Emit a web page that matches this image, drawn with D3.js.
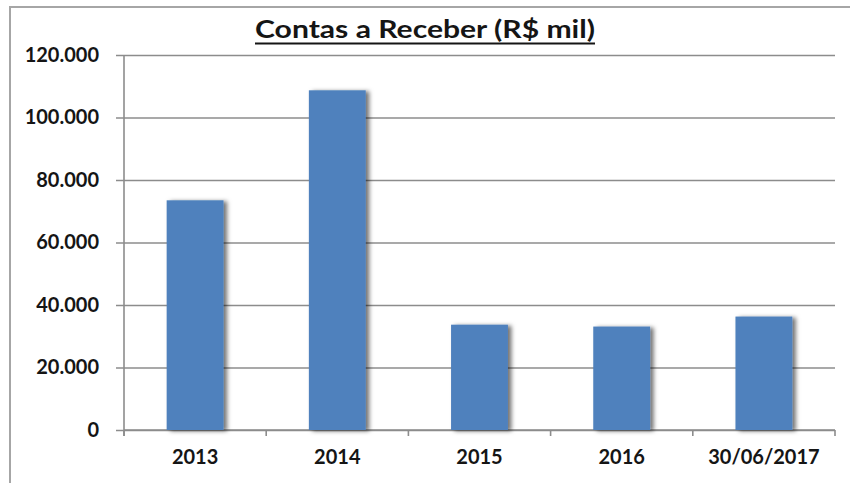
<!DOCTYPE html>
<html>
<head>
<meta charset="utf-8">
<script src="https://cdn.jsdelivr.net/npm/d3@7"></script>
<style>
  body { margin: 0; background: #fff; }
  text { font-family: Lato, "Open Sans", sans-serif; font-weight: bold; fill: #151515; }
</style>
</head>
<body>
<div id="container"></div>
<script>
/* CONSTANTS AND GLOBALS */
const width = 850;
const height = 483;
const margin = {top: 55, bottom: 53, left: 124, right: 15};

/* DATA */
const categories = ["2013", "2014", "2015", "2016", "30/06/2017"];
const values = [73500, 108700, 33700, 33100, 36300];
const yTicks = [0, 20000, 40000, 60000, 80000, 100000, 120000];
const title = "Contas a Receber (R$ mil)";

const data = categories.map((c, i) => ({cat: c, value: values[i]}));

// brazilian number format: 120.000
const ptBR = d3.formatLocale({decimal: ",", thousands: ".", grouping: [3], currency: ["R$", ""]});
const fmt = ptBR.format(",d");

/* SCALES */
const xScale = d3.scaleBand()
  .domain(categories)
  .range([margin.left, width - margin.right])
  .paddingInner(0.6)
  .paddingOuter(0.3);

const yScale = d3.scaleLinear()
  .domain([0, 120000])
  .range([height - margin.bottom, margin.top]);

/* HTML ELEMENTS */
const svg = d3.select("#container")
  .append("svg")
  .attr("width", width)
  .attr("height", height);

// drop shadow for the bars
const defs = svg.append("defs");
defs.append("filter")
  .attr("id", "shadow")
  .attr("x", "-20%").attr("y", "-10%")
  .attr("width", "150%").attr("height", "120%")
  .append("feDropShadow")
  .attr("dx", 3.5).attr("dy", 1)
  .attr("stdDeviation", 2.2)
  .attr("flood-color", "#000")
  .attr("flood-opacity", 0.55);

// chart frame
svg.append("rect")
  .attr("x", 10)
  .attr("y", 7)
  .attr("width", width + 20)
  .attr("height", height + 20)
  .attr("fill", "none")
  .attr("stroke", "#a6a6a6")
  .attr("stroke-width", 2);

// gridlines + y axis
const yAxis = d3.axisLeft(yScale)
  .tickValues(yTicks)
  .tickFormat(fmt)
  .tickSize(-(width - margin.right - margin.left + 8))
  .tickPadding(17);

const yG = svg.append("g")
  .attr("transform", `translate(${margin.left - 8},0)`)
  .call(yAxis);
yG.select(".domain").remove();
yG.selectAll(".tick line")
  .attr("stroke", "#8c8c8c")
  .attr("stroke-width", 1.6);
yG.selectAll(".tick text")
  .attr("font-size", 20)
  .attr("dy", "0.3em");

// vertical axis line
svg.append("line")
  .attr("x1", margin.left).attr("x2", margin.left)
  .attr("y1", margin.top).attr("y2", height - margin.bottom + 6)
  .attr("stroke", "#8c8c8c")
  .attr("stroke-width", 1.6);

// x axis with ticks between categories
const step = xScale.step();
const xAxis = d3.axisBottom(xScale).tickSize(0).tickPadding(20);
const xG = svg.append("g")
  .attr("transform", `translate(0,${height - margin.bottom})`)
  .call(xAxis);
xG.select(".domain")
  .attr("stroke", "#8c8c8c")
  .attr("stroke-width", 1.6)
  .attr("d", `M${margin.left},0H${width - margin.right}`);
xG.selectAll(".tick text")
  .attr("font-size", 20);

const sepX = d3.range(categories.length + 1).map(i => margin.left + i * step);
xG.selectAll(".sep")
  .data(sepX)
  .join("line")
  .attr("class", "sep")
  .attr("x1", d => d).attr("x2", d => d)
  .attr("y1", 0).attr("y2", 6)
  .attr("stroke", "#8c8c8c")
  .attr("stroke-width", 1.6);

// bars
svg.selectAll("rect.bar")
  .data(data)
  .join("rect")
  .attr("class", "bar")
  .attr("x", d => xScale(d.cat))
  .attr("y", d => yScale(d.value))
  .attr("width", xScale.bandwidth())
  .attr("height", d => yScale(0) - yScale(d.value))
  .attr("fill", "#4f81bd")
  .attr("filter", "url(#shadow)");

// title (stretched to the width it has in the original)
const titleW = 340;
svg.append("text")
  .attr("x", width / 2)
  .attr("y", 38)
  .attr("text-anchor", "middle")
  .attr("font-size", 25)
  .attr("textLength", titleW)
  .attr("lengthAdjust", "spacingAndGlyphs")
  .text(title);

svg.append("line")
  .attr("x1", width / 2 - titleW / 2).attr("x2", width / 2 + titleW / 2)
  .attr("y1", 43.5).attr("y2", 43.5)
  .attr("stroke", "#151515")
  .attr("stroke-width", 1.8);
</script>
</body>
</html>
